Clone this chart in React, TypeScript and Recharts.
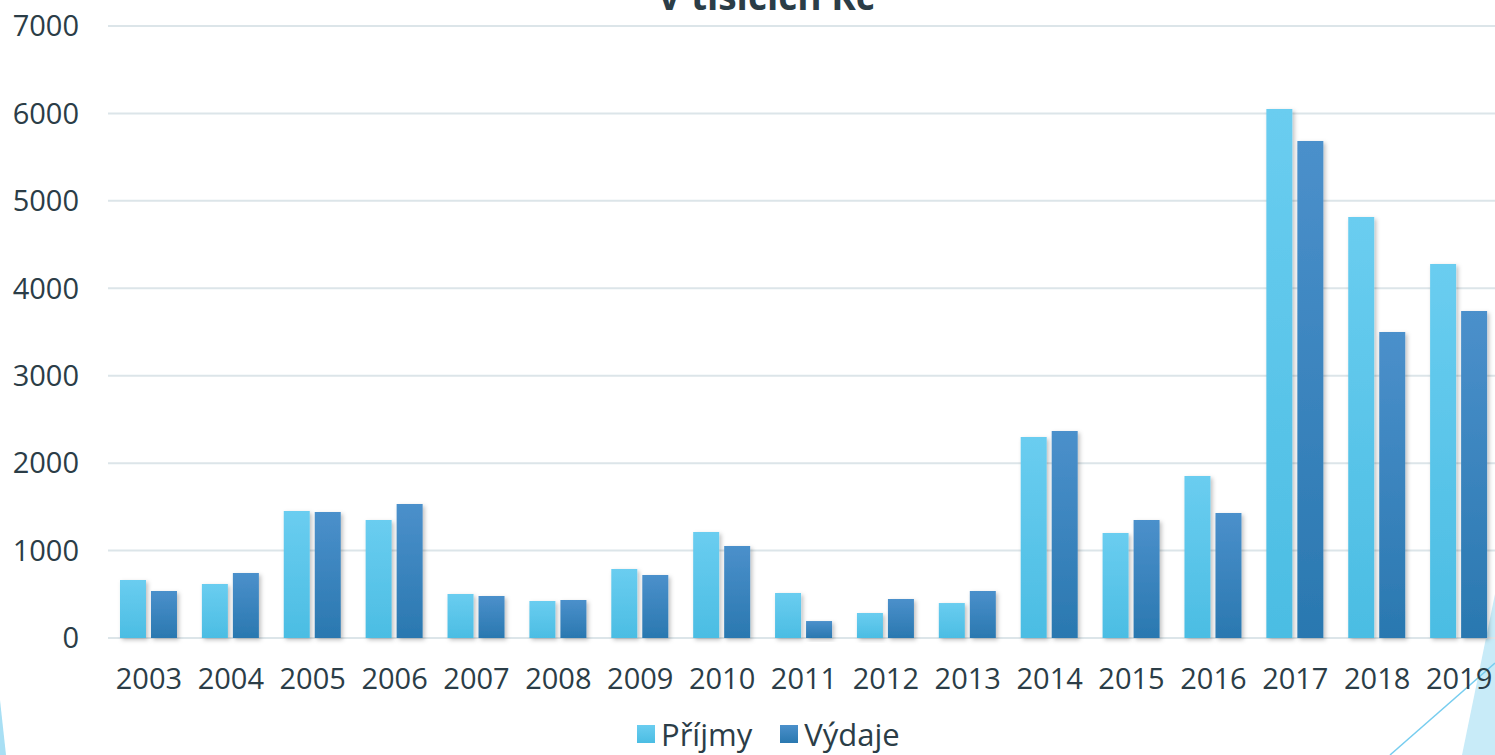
import React from 'react';
import { BarChart, Bar, XAxis, YAxis, CartesianGrid, Legend } from 'recharts';

const years = ['2003', '2004', '2005', '2006', '2007', '2008', '2009', '2010', '2011', '2012', '2013', '2014', '2015', '2016', '2017', '2018', '2019'];
const prijmy = [663, 618, 1453, 1350, 503, 423, 789, 1212, 515, 286, 400, 2299, 1201, 1853, 6050, 4815, 4278];
const vydaje = [538, 743, 1441, 1533, 480, 435, 720, 1052, 194, 446, 538, 2368, 1350, 1430, 5685, 3500, 3740];
const yTicks = [0, 1000, 2000, 3000, 4000, 5000, 6000, 7000];

const chartData = years.map((year, i) => ({ year, prijmy: prijmy[i], vydaje: vydaje[i] }));

const FONT = '"Open Sans", sans-serif';
const TEXT = '#2b3d47';

const LegendContent = () => (
  <div style={{ display: 'flex', alignItems: 'center', fontFamily: FONT, fontSize: 31, color: TEXT, lineHeight: '32px' }}>
    <span style={{ width: 18, height: 18, background: 'linear-gradient(#6acdf0, #4bbde3)', marginRight: 6 }} />
    <span style={{ marginRight: 28 }}>Příjmy</span>
    <span style={{ width: 18, height: 18, background: 'linear-gradient(#4b90cb, #2a78b0)', marginRight: 6 }} />
    <span>Výdaje</span>
  </div>
);

export default function App() {
  return (
    <div style={{ position: 'absolute', left: 0, top: 0, width: 1495, height: 755, overflow: 'hidden', background: '#fff' }}>
      <svg width={1495} height={755} style={{ position: 'absolute', left: 0, top: 0 }}>
        <polygon points="0,700 6,755 0,755" fill="#a8dff4" />
        <polygon points="1462,755 1495,594 1495,755" fill="#c8ebf8" />
        <line x1={1390} y1={755} x2={1495} y2={663} stroke="#77cdef" strokeWidth={1.5} />
      </svg>
      <div style={{ position: 'absolute', top: -23, left: 566, width: 400, textAlign: 'center', fontFamily: FONT, fontWeight: 700, fontSize: 37, lineHeight: '37px', color: TEXT }}>
        V tisících Kč
      </div>
      <div style={{ position: 'absolute', left: 0, top: 0 }}>
        <BarChart
          width={1540}
          height={755}
          data={chartData}
          margin={{ top: 26, right: 40, left: 0, bottom: 77 }}
          barCategoryGap="14.65%"
          barGap={5}
        >
          <defs>
            <linearGradient id="gP" x1="0" y1="0" x2="0" y2="1">
              <stop offset="0%" stopColor="#6acdf0" />
              <stop offset="100%" stopColor="#4bbde3" />
            </linearGradient>
            <linearGradient id="gV" x1="0" y1="0" x2="0" y2="1">
              <stop offset="0%" stopColor="#4b90cb" />
              <stop offset="100%" stopColor="#2a78b0" />
            </linearGradient>
            <filter id="shadow" x="-30%" y="-10%" width="160%" height="130%">
              <feDropShadow dx="2" dy="2" stdDeviation="2" floodColor="#000" floodOpacity="0.25" />
            </filter>
          </defs>
          <CartesianGrid vertical={false} stroke="#dce5e9" strokeWidth={2} />
          <XAxis
            dataKey="year"
            height={40}
            tickLine={false}
            axisLine={false}
            tickSize={0}
            tickMargin={30}
            interval={0}
            tick={{ fill: TEXT, fontSize: 29, fontFamily: FONT }}
          />
          <YAxis
            width={108}
            domain={[0, 7000]}
            ticks={yTicks}
            tickLine={false}
            axisLine={false}
            tickSize={0}
            tickMargin={29}
            tick={{ fill: TEXT, fontSize: 29, fontFamily: FONT }}
          />
          <Legend
            layout="horizontal"
            verticalAlign="middle"
            align="center"
            wrapperStyle={{ top: 718, left: 637, width: 320 }}
            content={LegendContent}
          />
          <Bar dataKey="prijmy" name="Příjmy" fill="url(#gP)" filter="url(#shadow)" isAnimationActive={false} />
          <Bar dataKey="vydaje" name="Výdaje" fill="url(#gV)" filter="url(#shadow)" isAnimationActive={false} />
        </BarChart>
      </div>
    </div>
  );
}
